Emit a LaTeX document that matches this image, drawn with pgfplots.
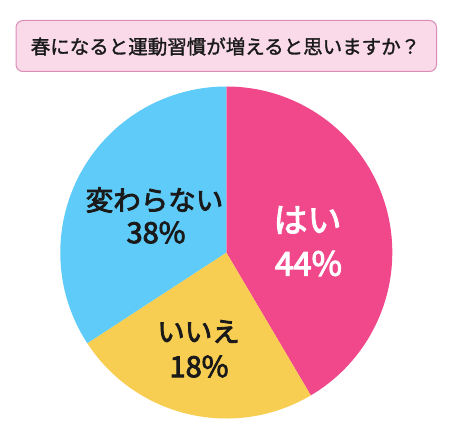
\documentclass[border=0pt]{standalone}
\usepackage{pgfplots}
\pgfplotsset{compat=1.18}
\usepackage{pgfplotstable}
\usepackage{fontspec}
\setmainfont{Noto Sans CJK JP}
\newfontfamily\labfont[FakeBold=3]{Noto Sans CJK JP}
\newfontfamily\titfont[FakeBold=1.5]{Noto Sans CJK JP}
\definecolor{piepink}{HTML}{F0488B}
\definecolor{pieyellow}{HTML}{F7CD52}
\definecolor{pieblue}{HTML}{5FCBF8}
\definecolor{boxfill}{HTML}{FADAE8}
\definecolor{boxdraw}{HTML}{D98DB8}
\definecolor{txt}{HTML}{1A1A1A}
% shares as drawn in the picture (labels give 44 / 18 / 38)
\pgfplotstableread{
label share
hai 41.5
iie 24.3
kawaranai 34.2
}\piedata
\begin{document}
\begin{tikzpicture}[x=1pt,y=1pt]
\path[use as bounding box] (0,0) rectangle (452,431);
\draw[boxdraw, fill=boxfill, rounded corners=7pt, line width=1pt] (16,359.5) rectangle (436.5,410.5);
\node[txt, inner sep=0pt] at (225.5,384.5) {\titfont\fontsize{19.5}{22}\selectfont 春になると運動習慣が増えると思いますか？};
\pgfplotstablegetelem{0}{share}\of\piedata \pgfmathsetmacro{\sa}{\pgfplotsretval}
\pgfplotstablegetelem{1}{share}\of\piedata \pgfmathsetmacro{\sb}{\pgfplotsretval}
\pgfplotstablegetelem{2}{share}\of\piedata \pgfmathsetmacro{\sc}{\pgfplotsretval}
\pgfmathsetmacro{\aA}{90}
\pgfmathsetmacro{\aB}{90-3.6*\sa}
\pgfmathsetmacro{\aC}{\aB-3.6*\sb}
\pgfmathsetmacro{\aD}{\aC-3.6*\sc}
\begin{axis}[at={(226.3pt,178.5pt)}, anchor=center, scale only axis,
  width=332pt, height=332pt, xmin=-1, xmax=1, ymin=-1, ymax=1,
  hide axis, clip=false]
\fill[piepink] (axis cs:0,0) -- (axis cs:{cos(\aA)},{sin(\aA)}) arc[start angle=\aA, end angle=\aB, radius=166pt] -- cycle;
\fill[pieyellow] (axis cs:0,0) -- (axis cs:{cos(\aB)},{sin(\aB)}) arc[start angle=\aB, end angle=\aC, radius=166pt] -- cycle;
\fill[pieblue] (axis cs:0,0) -- (axis cs:{cos(\aC)},{sin(\aC)}) arc[start angle=\aC, end angle=\aD, radius=166pt] -- cycle;
\end{axis}
\node[txt, inner sep=0pt] at (154.5,231) {\labfont\fontsize{27.5}{30}\selectfont 変わらない};
\node[txt, inner sep=0pt] at (156,198.5) {\labfont\fontsize{29}{30}\selectfont 38\%};
\node[white, inner sep=0pt] at (307.5,211) {\labfont\fontsize{34}{36}\selectfont はい};
\node[white, inner sep=0pt] at (308.5,167.5) {\labfont\fontsize{33}{36}\selectfont 44\%};
\node[txt, inner sep=0pt] at (198.5,99.5) {\labfont\fontsize{27.5}{30}\selectfont いいえ};
\node[txt, inner sep=0pt] at (199,64.5) {\labfont\fontsize{29}{30}\selectfont 18\%};
\end{tikzpicture}
\end{document}
